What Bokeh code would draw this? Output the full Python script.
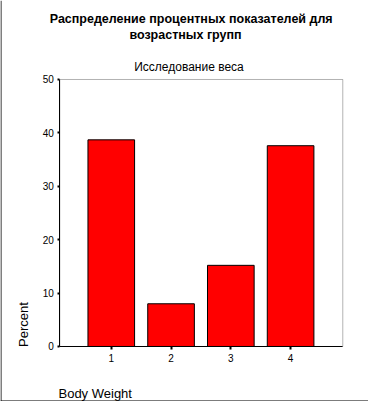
from bokeh.plotting import figure
from bokeh.models import Label, Range1d, FixedTicker, BoxAnnotation, LinearAxis, Span
from bokeh.embed import file_html
from bokeh.resources import INLINE

# Data
categories = [1, 2, 3, 4]
percents = [38.7, 8.0, 15.2, 37.6]
y_ticks = [0, 10, 20, 30, 40, 50]

title_line1 = "Распределение процентных показателей для"
title_line2 = "возрастных групп"
subtitle = "Исследование веса"
y_label = "Percent"
x_label = "Body Weight"

FONT = "Liberation Sans"

# plot-area extents (data units)
X0, X1 = 0.139, 4.873
Y0, Y1 = 0, 50

p = figure(width=368, height=401, output_backend="svg", toolbar_location=None,
           x_axis_type=None, y_axis_type=None,
           x_range=Range1d(-0.853, 5.303), y_range=Range1d(-10.300, 64.794),
           min_border=0, min_border_left=0, min_border_right=0,
           min_border_top=0, min_border_bottom=0)
p.xgrid.visible = False
p.ygrid.visible = False
p.outline_line_color = None
p.background_fill_color = "white"
p.border_fill_color = "white"

p.vbar(x=categories, top=percents, width=0.78, bottom=0,
       fill_color="#FF0000", line_color="black", line_width=1)

# plot box
p.add_layout(BoxAnnotation(left=X0, right=X1, bottom=Y0, top=Y1,
                           fill_color=None, line_color="black", line_width=1))

xaxis = LinearAxis(fixed_location=Y0, bounds=(X0, X1), ticker=FixedTicker(ticks=categories))
yaxis = LinearAxis(fixed_location=X0, bounds=(Y0, Y1), ticker=FixedTicker(ticks=y_ticks))
for ax in (xaxis, yaxis):
    ax.axis_line_color = "black"
    ax.major_tick_line_color = "black"
    ax.major_tick_line_width = 2
    ax.major_tick_in = 0
    ax.minor_tick_line_color = None
    ax.major_label_text_font = FONT
    ax.major_label_text_font_size = "10px"
    ax.major_label_text_color = "black"
xaxis.major_tick_out = 3
xaxis.major_label_standoff = 5
yaxis.major_tick_out = 2
yaxis.major_label_standoff = 4
p.add_layout(xaxis, "below")
p.add_layout(yaxis, "left")

# outer border lines (left and bottom)
p.add_layout(Span(location=-0.8446, dimension="height", line_color="black", line_width=1))
p.add_layout(Span(location=-10.206, dimension="width", line_color="black", line_width=1))


def lab(x, y, text, size, bold=False, align="center", baseline="alphabetic", angle=0):
    p.add_layout(Label(x=x, y=y, text=text, text_font=FONT, text_font_size=size,
                       text_font_style="bold" if bold else "normal", text_color="black",
                       text_align=align, text_baseline=baseline, angle=angle))

lab(2.337, 61.42, title_line1, "12.5px", bold=True)
lab(2.242, 58.24, title_line2, "12.5px", bold=True)
lab(2.300, 52.43, subtitle, "12px")
lab(-0.468, 4.12, y_label, "13px", baseline="middle", angle=1.5708)
lab(0.117, -8.80, x_label, "13px", align="left")

open("out.html", "w").write(file_html(p, INLINE))
